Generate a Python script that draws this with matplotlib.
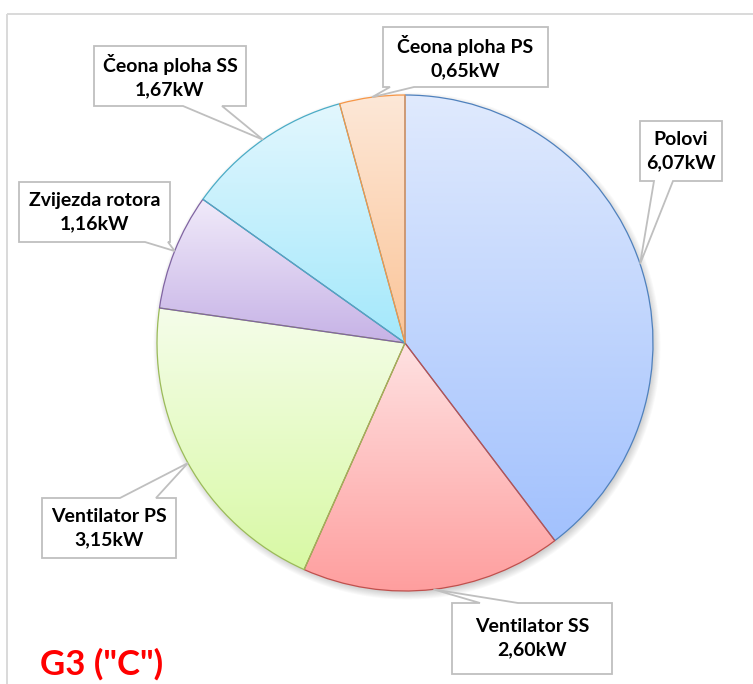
import numpy as np
import matplotlib
matplotlib.use("Agg")
import matplotlib.pyplot as plt
from matplotlib.patches import Polygon
from matplotlib.colors import to_rgb

# ---- data ----
names = ["Polovi", "Ventilator SS", "Ventilator PS", "Zvijezda rotora",
         "Čeona ploha SS", "Čeona ploha PS"]
values_kw = [6.07, 2.60, 3.15, 1.16, 1.67, 0.65]
title = 'G3 ("C")'

# ---- styles ----
top_colors = ["#e0eafd", "#ffe2e2", "#f5fdea", "#f1ebfa", "#e3f7fe", "#fde8d8"]
bottom_colors = ["#a2c1fd", "#fe9e9e", "#d8f9a4", "#c6b2e6", "#a3e8fb", "#fbc497"]
edge_colors = ["#4f81bd", "#c0504d", "#9bbb59", "#8064a2", "#4bacc6", "#f79646"]

W, H = 753, 684
CX, CY, R = 405, 343, 248  # pie centre / radius in pixels (y measured from top)

# callout boxes: (x0, y0, x1, y1) in pixels, side holding the pointer, pointer base x-range
callouts = [
    ((640, 121, 722, 181), "bottom", (654, 673)),
    ((452, 603, 612, 674), "top", (480, 518)),
    ((42, 498, 176, 558), "top", (120, 156)),
    ((19, 182, 170, 242), "bottom", (145, 168)),
    ((94, 46, 246, 106), "bottom", (183, 222)),
    ((383, 27, 548, 87), "bottom", (390, 414)),
]


def Y(py):
    return H - py


fig = plt.figure(figsize=(W / 100, H / 100), dpi=100)
ax = fig.add_axes([0, 0, 1, 1])

wedges, _ = ax.pie(values_kw, startangle=90, counterclock=False,
                   center=(CX, Y(CY)), radius=R,
                   wedgeprops=dict(linewidth=0.9))
ax.set_xlim(0, W)
ax.set_ylim(0, H)
ax.set_aspect("auto")
ax.axis("off")

# soft shadow under the pie
gx, gy = np.meshgrid(np.arange(W) + 0.5, np.arange(H) + 0.5)
d = np.hypot(gx - (CX + 2), gy - (CY + 3))
alpha = np.clip((R + 6 - d) / 8.0, 0, 1) * 0.28
shadow = np.zeros((H, W, 4))
shadow[..., :3] = 0.35
shadow[..., 3] = alpha
ax.imshow(shadow, extent=(0, W, 0, H), origin="upper", zorder=0.5,
          interpolation="bilinear")

# gradient fill per wedge, clipped to its outline
for w, c0, c1, ec in zip(wedges, top_colors, bottom_colors, edge_colors):
    bb = w.get_path().get_extents()
    n = 256
    t = np.linspace(0, 1, n)[:, None]
    a, b = np.array(to_rgb(c0)), np.array(to_rgb(c1))
    grad = (a[None, :] * (1 - t) + b[None, :] * t)[:, None, :]
    im = ax.imshow(grad, extent=(bb.x0 - 1, bb.x1 + 1, bb.y0 - 1, bb.y1 + 1),
                   origin="upper", aspect="auto", zorder=1,
                   interpolation="bilinear")
    im.set_clip_path(w)
    w.set_facecolor("none")
    w.set_edgecolor(ec)
    w.set_zorder(2)

# callouts with pointers to the middle of each wedge's arc
for w, name, val, (box, side, base) in zip(wedges, names, values_kw, callouts):
    mid = np.deg2rad((w.theta1 + w.theta2) / 2)
    tip = (CX + R * np.cos(mid), Y(CY) + R * np.sin(mid))
    x0, y0, x1, y1 = box
    b1, b2 = base
    if side == "bottom":
        pts = [(x0, Y(y0)), (x1, Y(y0)), (x1, Y(y1)), (b2, Y(y1)), tip,
               (b1, Y(y1)), (x0, Y(y1))]
    else:
        pts = [(x0, Y(y0)), (b1, Y(y0)), tip, (b2, Y(y0)), (x1, Y(y0)),
               (x1, Y(y1)), (x0, Y(y1))]
    ax.add_patch(Polygon(pts, closed=True, facecolor="white",
                         edgecolor="#bfbfbf", linewidth=1.3, zorder=5,
                         joinstyle="miter"))
    label = f"{name}\n{val:.2f}kW".replace(".", ",")
    ax.text((x0 + x1) / 2, Y((y0 + y1) / 2), label, ha="center", va="center",
            fontsize=14, fontweight="bold", family="Lato", color="black",
            linespacing=1.45, zorder=6)

# chart frame (top and left edges)
ax.plot([7, W], [Y(14), Y(14)], color="#d9d9d9", lw=1.4, zorder=0.2,
        solid_capstyle="butt")
ax.plot([7, 7], [Y(14), 0], color="#d9d9d9", lw=1.4, zorder=0.2,
        solid_capstyle="butt")

ax.text(40, Y(664), title, ha="left", va="center", fontsize=25,
        fontweight="bold", family="Lato", color="#ff0000", zorder=6)

fig.savefig("out.png", dpi=100)
